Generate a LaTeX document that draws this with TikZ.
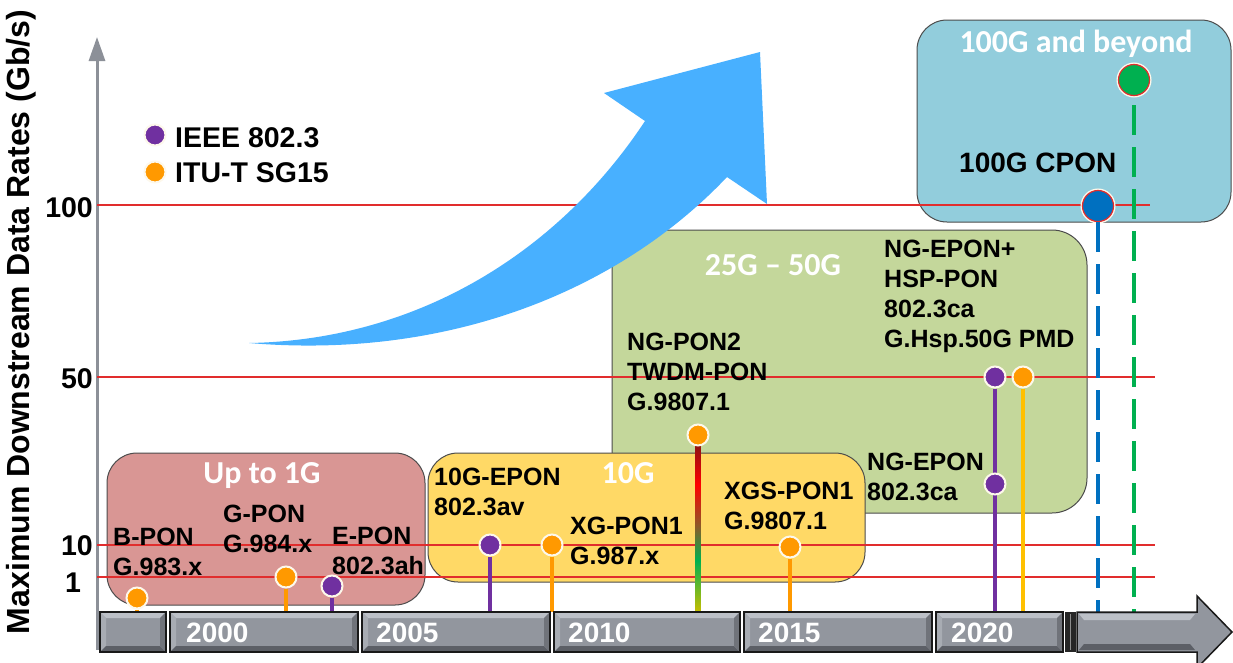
\documentclass[tikz,border=0pt]{standalone}
\usepackage{fontspec}
\setmainfont{Liberation Sans}
\newfontfamily\carlito{Carlito}
\usetikzlibrary{arrows.meta}

\definecolor{eraRed}{RGB}{217,150,148}
\definecolor{eraYellow}{RGB}{255,217,102}
\definecolor{eraGreen}{RGB}{196,215,155}
\definecolor{eraBlue}{RGB}{146,205,220}
\definecolor{purp}{RGB}{112,48,160}
\definecolor{orng}{RGB}{255,153,0}
\definecolor{gold}{RGB}{255,192,0}
\definecolor{cBlue}{RGB}{0,112,192}
\definecolor{cGreen}{RGB}{0,176,80}
\definecolor{cream}{RGB}{253,248,235}
\definecolor{rateRed}{RGB}{225,45,45}
\definecolor{arrowBlue}{RGB}{72,176,255}
\definecolor{axisGray}{RGB}{140,144,152}
\definecolor{segGray}{RGB}{146,150,158}
\definecolor{segLight}{RGB}{188,192,199}
\definecolor{segMid}{RGB}{168,172,179}
\definecolor{segDark}{RGB}{92,95,102}
\definecolor{segShade}{RGB}{112,115,122}
\definecolor{stemA}{RGB}{200,190,0}
\definecolor{stemB}{RGB}{0,176,80}
\definecolor{stemC}{RGB}{140,90,40}
\definecolor{stemD}{RGB}{255,0,0}
\definecolor{stemE}{RGB}{128,20,20}

\pgfdeclareverticalshading{ngstem}{100bp}{color(0bp)=(stemA); color(25bp)=(stemA); color(40bp)=(stemB); color(50bp)=(stemC); color(62bp)=(stemD); color(75bp)=(stemE); color(100bp)=(stemE)}

\tikzstyle{era}=[draw=black!70, line width=1pt, rounded corners=30pt, inner sep=0pt]
\tikzstyle{eratitle}=[anchor=base, inner sep=0pt, text=white, font=\carlito\bfseries\fontsize{32}{32}\selectfont]
\tikzstyle{lbl}=[anchor=north west, inner sep=0pt, align=left, font=\bfseries\fontsize{25}{30}\selectfont]
\tikzstyle{ball}=[circle, draw=cream, line width=2pt, minimum size=21pt, inner sep=0pt]
\tikzstyle{bigball}=[circle, draw=rateRed, line width=1.2pt, minimum size=31pt, inner sep=0pt, preaction={draw=cream, line width=4pt}]
\tikzstyle{stem}=[line width=4.5pt]
\tikzstyle{dstem}=[line width=4.5pt, dash pattern=on 30pt off 12pt]
\tikzstyle{rate}=[draw=rateRed, line width=1.3pt]
\tikzstyle{ratelbl}=[anchor=base east, inner sep=0pt, font=\bfseries\fontsize{28.5}{28.5}\selectfont]
\tikzstyle{legtxt}=[anchor=base west, inner sep=0pt, font=\bfseries\fontsize{28.5}{28.5}\selectfont]
\tikzstyle{yr}=[anchor=base west, inner sep=0pt, text=white, font=\bfseries\fontsize{28}{28}\selectfont]
\tikzstyle{seg}=[draw=black!90, line width=1.5pt, fill=segGray, minimum height=40pt, inner sep=0pt,
  path picture={
    \coordinate (a) at (path picture bounding box.north west);
    \coordinate (b) at (path picture bounding box.north east);
    \coordinate (c) at (path picture bounding box.south east);
    \coordinate (d) at (path picture bounding box.south west);
    \fill[segLight] (a) -- (b) -- ([shift={(-6pt,-6pt)}]b) -- ([shift={(6pt,-6pt)}]a) -- cycle;
    \fill[segMid] (a) -- (d) -- ([shift={(6pt,6pt)}]d) -- ([shift={(6pt,-6pt)}]a) -- cycle;
    \fill[segDark] (d) -- (c) -- ([shift={(-6pt,6pt)}]c) -- ([shift={(6pt,6pt)}]d) -- cycle;
    \fill[segShade] (b) -- (c) -- ([shift={(-6pt,6pt)}]c) -- ([shift={(-6pt,-6pt)}]b) -- cycle;
  }]

\begin{document}
\begin{tikzpicture}[x=1pt, y=-1pt]
        \clip (0,0) rectangle (1233,662);
        \fill[white] (0,0) rectangle (1233,662);

        % rate axis
        \coordinate (ybot) at (97,650);
        \coordinate (ytop) at (97,37);
        \draw[axisGray, line width=3pt, -{Triangle[length=24pt, width=16pt]}] (ybot) -- (ytop);
        \node[rotate=90, inner sep=0pt, font=\bfseries\fontsize{32}{32}\selectfont] (ylab) at (21,322) {Maximum Downstream Data Rates (Gb/s)};

        % eras
        \node[era, fill=eraGreen, minimum width=475pt, minimum height=283pt, rounded corners=35pt] (g25) at (849.5,371.5) {};
        \node[era, fill=eraRed, minimum width=318pt, minimum height=152pt] (g1) at (266,529) {};
        \node[era, fill=eraYellow, minimum width=437pt, minimum height=129pt] (g10) at (646.5,517.5) {};
        \node[era, fill=eraBlue, minimum width=314pt, minimum height=202pt] (g100) at (1074,121) {};

        % rate lines
        \foreach \y/\e in {205/1150, 377/1155, 545/1155, 577/1155}
            \draw[rate] (97,\y) -- (\e,\y);
        \node[ratelbl] (r100) at (93,217) {100};
        \node[ratelbl] (r50) at (93,388) {50};
        \node[ratelbl] (r10) at (93,555) {10};
        \node[ratelbl, anchor=base] (r1) at (73,592) {1};

        % growth arrow
        \fill[arrowBlue] (249,343) .. controls (420,340) and (560,250) .. (645,121) -- (604,93) -- (760,52)
            -- (767,204) -- (727,177) .. controls (620,290) and (450,360) .. (249,343) -- cycle;

        % era titles
        \node[eratitle] (t1) at (262,483) {Up to 1G};
        \node[eratitle] (t10) at (628,483) {10G};
        \node[eratitle] (t25) at (773,275) {25G – 50G};
        \node[eratitle] (t100) at (1076,52) {100G and beyond};

        % standards
        \node[lbl] (bponL) at (113,528) {B-PON\\G.983.x};
        \node[lbl] (gponL) at (223,505) {G-PON\\G.984.x};
        \node[lbl] (eponL) at (332,527) {E-PON\\802.3ah};
        \node[lbl] (tgeponL) at (434,468) {10G-EPON\\802.3av};
        \node[lbl] (xgponL) at (570,517) {XG-PON1\\G.987.x};
        \node[lbl] (xgsponL) at (724,482) {XGS-PON1\\G.9807.1};
        \node[lbl] (ngpon2L) at (627,333) {NG-PON2\\TWDM-PON\\G.9807.1};
        \node[lbl] (hspL) at (884,240) {NG-EPON+\\HSP-PON\\802.3ca\\G.Hsp.50G PMD};
        \node[lbl] (ngeponL) at (867,453) {NG-EPON\\802.3ca};
        \node[lbl, font=\bfseries\fontsize{28}{28}\selectfont] (cponL) at (959,153) {100G CPON};

        % lollipops
        \coordinate (tl) at (0,612);
        \node[ball, fill=orng] (bpon) at (137,598) {} edge[stem, orng] (bpon |- tl);
        \node[ball, fill=orng] (gpon) at (286,577) {} edge[stem, orng] (gpon |- tl);
        \node[ball, fill=purp] (epon) at (332,586) {} edge[stem, purp] (epon |- tl);
        \node[ball, fill=purp] (tgepon) at (490,545) {} edge[stem, purp] (tgepon |- tl);
        \node[ball, fill=orng] (xgpon) at (552,545) {} edge[stem, orng] (xgpon |- tl);
        \shade[shading=ngstem] (695.5,440) rectangle (700.5,612);
        \node[ball, fill=orng] (ngpon2) at (698,435) {};
        \node[ball, fill=orng] (xgspon) at (790,547) {} edge[stem, orng] (xgspon |- tl);
        \node[ball, fill=purp] (hspE) at (995,377) {} edge[stem, purp] (hspE |- tl);
        \node[ball, fill=purp] (ngepon) at (995,484) {};
        \node[ball, fill=orng] (hspI) at (1023,377) {} edge[stem, gold] (hspI |- tl);
        \node[bigball, fill=cBlue] (cpon) at (1098,206) {} edge[dstem, cBlue] (cpon |- tl);
        \node[bigball, fill=cGreen] (beyond) at (1134,80) {} edge[dstem, cGreen, shorten <=9pt] (beyond |- tl);

        % timeline
        \node[seg, minimum width=66pt] (s1995) at (133,632) {};
        \node[seg, minimum width=188pt] (s2000) at (264,632) {};
        \node[seg, minimum width=188pt] (s2005) at (456,632) {};
        \node[seg, minimum width=186pt] (s2010) at (647,632) {};
        \node[seg, minimum width=188pt] (s2015) at (838,632) {};
        \node[seg, minimum width=127pt] (s2020) at (999.5,632) {};
        \node[yr] (y2000) at (186,642) {2000};
        \node[yr] (y2005) at (376,642) {2005};
        \node[yr] (y2010) at (568,642) {2010};
        \node[yr] (y2015) at (758,642) {2015};
        \node[yr] (y2020) at (951,642) {2020};
        \fill[black!85] (1065,612) rectangle (1076,652);
        \draw[black!45, line width=1.5pt] (1070.5,614) -- (1070.5,650);
        \filldraw[fill=segGray, draw=black!90, line width=1.5pt] (1077,612) -- (1197,612) -- (1197,596) -- (1232,632)
            -- (1197,668) -- (1197,652) -- (1077,652) -- cycle;
        \fill[segLight] (1079,614) -- (1195,614) -- (1190,620) -- (1084,620) -- cycle;
        \fill[segDark] (1079,650) -- (1195,650) -- (1190,644) -- (1084,644) -- cycle;

        % legend
        \node[ball, fill=purp] (legE) at (155,135) {};
        \node[ball, fill=orng] (legI) at (155,172) {};
        \node[legtxt] (legEt) at (175,147) {IEEE 802.3};
        \node[legtxt] (legIt) at (175,182) {ITU-T SG15};
\end{tikzpicture}
\end{document}
